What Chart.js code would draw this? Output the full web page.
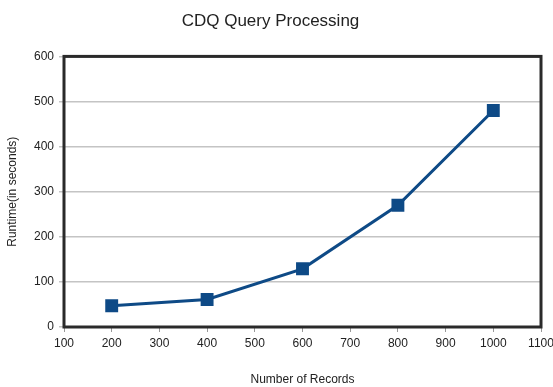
<!DOCTYPE html>
<html>
<head>
<meta charset="utf-8">
<script src="https://cdn.jsdelivr.net/npm/chart.js@4"></script>
<style>
  html, body { margin: 0; padding: 0; background: #fff; }
  #wrap { width: 553px; height: 387px; }
</style>
</head>
<body>
<div id="wrap"><canvas id="chart_cdq"></canvas></div>
<script>
// data
var records = [200, 400, 600, 800, 1000];
var runtime = [47, 61, 129, 270, 480];
var xTicks = [100, 200, 300, 400, 500, 600, 700, 800, 900, 1000, 1100];
var yTicks = [0, 100, 200, 300, 400, 500, 600];

var fontFam = "'Liberation Sans Narrow', 'Liberation Sans', Arial, sans-serif";

var chart_cdq = new Chart(document.getElementById('chart_cdq'), {
    type: 'scatter',
    data: {
        datasets: [{
            label: 'Runtime',
            data: records.map(function (x, i) { return { x: x, y: runtime[i] }; }),
            showLine: true,
            borderColor: '#0e4a86',
            backgroundColor: '#0e4a86',
            borderWidth: 3,
            pointStyle: 'rect',
            pointRadius: 7,
            pointHoverRadius: 7
        }]
    },
    options: {
        animation: false,
        responsive: true,
        maintainAspectRatio: false,
        layout: { padding: { left: 0, right: 12, top: 0, bottom: 0 } },
        plugins: {
            legend: { display: false },
            tooltip: { enabled: false },
            title: {
                display: true,
                text: 'CDQ Query Processing',
                color: '#222',
                font: { family: fontFam, size: 17, weight: 'normal' },
                padding: { top: 11, bottom: 25 }
            }
        },
        scales: {
            x: {
                type: 'linear',
                min: 100,
                max: 1100,
                afterBuildTicks: function (axis) {
                    axis.ticks = xTicks.map(function (v) { return { value: v }; });
                },
                afterFit: function (axis) {
                    axis.height = 60;
                    axis.paddingLeft = 0;
                    axis.paddingRight = 0;
                },
                grid: {
                    drawOnChartArea: false,
                    drawTicks: true,
                    tickLength: 5,
                    color: '#999'
                },
                border: { display: false },
                ticks: {
                    color: '#222',
                    padding: 4,
                    maxRotation: 0,
                    font: { family: fontFam, size: 12 },
                    callback: function (v) { return String(v); }
                },
                title: {
                    display: true,
                    text: 'Number of Records',
                    color: '#222',
                    font: { family: fontFam, size: 12 },
                    padding: { top: 8, bottom: 0 }
                }
            },
            y: {
                type: 'linear',
                min: 0,
                max: 600,
                afterBuildTicks: function (axis) {
                    axis.ticks = yTicks.map(function (v) { return { value: v }; });
                },
                afterFit: function (axis) { axis.width = 64; },
                grid: {
                    color: '#c4c4c4',
                    lineWidth: 1.5,
                    drawTicks: true,
                    tickLength: 5
                },
                border: { display: false },
                ticks: {
                    color: '#222',
                    padding: 5,
                    font: { family: fontFam, size: 12 },
                    callback: function (v) { return String(v); }
                },
                title: {
                    display: true,
                    text: 'Runtime(in seconds)',
                    color: '#222',
                    font: { family: fontFam, size: 12 },
                    padding: { top: 5, bottom: 1 }
                }
            }
        }
    },
    plugins: [{
        id: 'frame',
        beforeDraw: function (chart) {
            var ctx = chart.ctx;
            ctx.save();
            ctx.fillStyle = 'white';
            ctx.fillRect(0, 0, chart.width, chart.height);
            ctx.restore();
        },
        afterDatasetsDraw: function (chart) {
            var a = chart.chartArea;
            var ctx = chart.ctx;
            ctx.save();
            ctx.strokeStyle = '#2a2a2a';
            ctx.lineWidth = 3;
            ctx.strokeRect(a.left, a.top, a.right - a.left, a.bottom - a.top);
            ctx.restore();
        }
    }]
});
</script>
</body>
</html>
